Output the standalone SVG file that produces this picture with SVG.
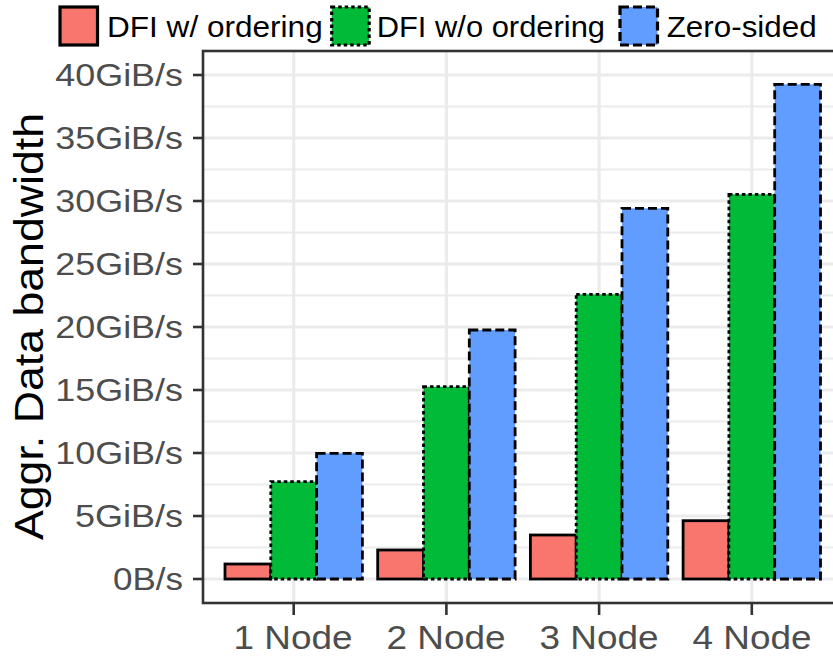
<svg xmlns="http://www.w3.org/2000/svg" width="833" height="657" viewBox="0 0 833 657">
  <style>
    .grid-major { stroke: #EBEBEB; stroke-width: 3.2; fill: none; }
    .grid-minor { stroke: #EBEBEB; stroke-width: 1.8; fill: none; }
    .axis { stroke: #333333; stroke-width: 2.6; fill: none; }
    .tick { stroke: #333333; stroke-width: 2.6; }
    .ylab { font-family: "Liberation Sans", Arial, sans-serif; font-size: 31px; fill: #4D4D4D; text-anchor: end; }
    .xlab { font-family: "Liberation Sans", Arial, sans-serif; font-size: 33px; fill: #4D4D4D; text-anchor: middle; }
    .title { font-family: "Liberation Sans", Arial, sans-serif; font-size: 40px; fill: #000000; text-anchor: middle; }
    .legtext { font-family: "Liberation Sans", Arial, sans-serif; font-size: 30px; fill: #000000; }
    .ord { fill: #F8766D; stroke: #000000; stroke-width: 2.8; }
    .noord { fill: #00BA38; stroke: #000000; stroke-width: 2.8; stroke-dasharray: 3.5 3; }
    .zero { fill: #619CFF; stroke: #000000; stroke-width: 2.8; stroke-dasharray: 9 4; }
    .key { stroke-width: 3.2; }
  </style>

  <rect x="0" y="0" width="833" height="657" fill="#FFFFFF"/>

  <!-- panel grid -->
  <g id="grid">
    <g class="grid-minor">
      <line x1="203" y1="547.5" x2="833" y2="547.5"/>
      <line x1="203" y1="484.5" x2="833" y2="484.5"/>
      <line x1="203" y1="421.5" x2="833" y2="421.5"/>
      <line x1="203" y1="358.5" x2="833" y2="358.5"/>
      <line x1="203" y1="295.5" x2="833" y2="295.5"/>
      <line x1="203" y1="232.5" x2="833" y2="232.5"/>
      <line x1="203" y1="169.5" x2="833" y2="169.5"/>
      <line x1="203" y1="106.5" x2="833" y2="106.5"/>
    </g>
    <g class="grid-major">
      <line x1="203" y1="579" x2="833" y2="579"/>
      <line x1="203" y1="516" x2="833" y2="516"/>
      <line x1="203" y1="453" x2="833" y2="453"/>
      <line x1="203" y1="390" x2="833" y2="390"/>
      <line x1="203" y1="327" x2="833" y2="327"/>
      <line x1="203" y1="264" x2="833" y2="264"/>
      <line x1="203" y1="201" x2="833" y2="201"/>
      <line x1="203" y1="138" x2="833" y2="138"/>
      <line x1="203" y1="75" x2="833" y2="75"/>
      <line x1="293.7" y1="51" x2="293.7" y2="603"/>
      <line x1="446.4" y1="51" x2="446.4" y2="603"/>
      <line x1="599.1" y1="51" x2="599.1" y2="603"/>
      <line x1="751.8" y1="51" x2="751.8" y2="603"/>
    </g>
  </g>

  <!-- bars, one group per node count -->
  <g id="node1">
    <rect class="ord" x="225" y="564" width="45.8" height="15"/>
    <rect class="noord" x="270.8" y="481.7" width="45.8" height="97.3"/>
    <rect class="zero" x="316.6" y="453.3" width="45.8" height="125.7"/>
  </g>
  <g id="node2">
    <rect class="ord" x="377.7" y="550" width="45.8" height="29"/>
    <rect class="noord" x="423.5" y="386.7" width="45.8" height="192.3"/>
    <rect class="zero" x="469.3" y="330" width="45.8" height="249"/>
  </g>
  <g id="node3">
    <rect class="ord" x="530.4" y="535" width="45.8" height="44"/>
    <rect class="noord" x="576.2" y="294.3" width="45.8" height="284.7"/>
    <rect class="zero" x="622" y="208.3" width="45.8" height="370.7"/>
  </g>
  <g id="node4">
    <rect class="ord" x="683.1" y="520.7" width="45.8" height="58.3"/>
    <rect class="noord" x="728.9" y="194.3" width="45.8" height="384.7"/>
    <rect class="zero" x="774.7" y="84.3" width="45.8" height="494.7"/>
  </g>

  <!-- panel border (right edge falls outside the canvas) -->
  <rect id="panel" class="axis" x="203" y="51" width="645" height="552"/>

  <!-- y axis -->
  <g id="y-axis">
    <g class="tick">
      <line x1="193" y1="579" x2="203" y2="579"/>
      <line x1="193" y1="516" x2="203" y2="516"/>
      <line x1="193" y1="453" x2="203" y2="453"/>
      <line x1="193" y1="390" x2="203" y2="390"/>
      <line x1="193" y1="327" x2="203" y2="327"/>
      <line x1="193" y1="264" x2="203" y2="264"/>
      <line x1="193" y1="201" x2="203" y2="201"/>
      <line x1="193" y1="138" x2="203" y2="138"/>
      <line x1="193" y1="75" x2="203" y2="75"/>
    </g>
    <text class="ylab" x="183" y="589.8" textLength="70" lengthAdjust="spacingAndGlyphs">0B/s</text>
    <text class="ylab" x="183" y="526.8" textLength="108" lengthAdjust="spacingAndGlyphs">5GiB/s</text>
    <text class="ylab" x="183" y="463.8" textLength="127.7" lengthAdjust="spacingAndGlyphs">10GiB/s</text>
    <text class="ylab" x="183" y="400.8" textLength="127.7" lengthAdjust="spacingAndGlyphs">15GiB/s</text>
    <text class="ylab" x="183" y="337.8" textLength="127.7" lengthAdjust="spacingAndGlyphs">20GiB/s</text>
    <text class="ylab" x="183" y="274.8" textLength="127.7" lengthAdjust="spacingAndGlyphs">25GiB/s</text>
    <text class="ylab" x="183" y="211.8" textLength="127.7" lengthAdjust="spacingAndGlyphs">30GiB/s</text>
    <text class="ylab" x="183" y="148.8" textLength="127.7" lengthAdjust="spacingAndGlyphs">35GiB/s</text>
    <text class="ylab" x="183" y="85.8" textLength="127.7" lengthAdjust="spacingAndGlyphs">40GiB/s</text>
    <text class="title" transform="translate(42.7,326.5) rotate(-90)" x="0" y="0" textLength="427" lengthAdjust="spacingAndGlyphs">Aggr. Data bandwidth</text>
  </g>

  <!-- x axis -->
  <g id="x-axis">
    <g class="tick">
      <line x1="293.7" y1="603" x2="293.7" y2="615"/>
      <line x1="446.4" y1="603" x2="446.4" y2="615"/>
      <line x1="599.1" y1="603" x2="599.1" y2="615"/>
      <line x1="751.8" y1="603" x2="751.8" y2="615"/>
    </g>
    <text class="xlab" x="293" y="649" textLength="119" lengthAdjust="spacingAndGlyphs">1 Node</text>
    <text class="xlab" x="446" y="649" textLength="119" lengthAdjust="spacingAndGlyphs">2 Node</text>
    <text class="xlab" x="599" y="649" textLength="119" lengthAdjust="spacingAndGlyphs">3 Node</text>
    <text class="xlab" x="752" y="649" textLength="119" lengthAdjust="spacingAndGlyphs">4 Node</text>
  </g>

  <!-- legend -->
  <g id="legend">
    <g id="legend-ordering">
      <rect class="ord key" x="60" y="7" width="37.5" height="38"/>
      <text class="legtext" x="107" y="36.7" textLength="215.7" lengthAdjust="spacingAndGlyphs">DFI w/ ordering</text>
    </g>
    <g id="legend-no-ordering">
      <rect class="noord key" x="331.7" y="7" width="37.5" height="38"/>
      <text class="legtext" x="376.7" y="36.7" textLength="228.3" lengthAdjust="spacingAndGlyphs">DFI w/o ordering</text>
    </g>
    <g id="legend-zero-sided">
      <rect class="zero key" x="620" y="7" width="37.5" height="38"/>
      <text class="legtext" x="666.7" y="36.7" textLength="150" lengthAdjust="spacingAndGlyphs">Zero-sided</text>
    </g>
  </g>
</svg>
